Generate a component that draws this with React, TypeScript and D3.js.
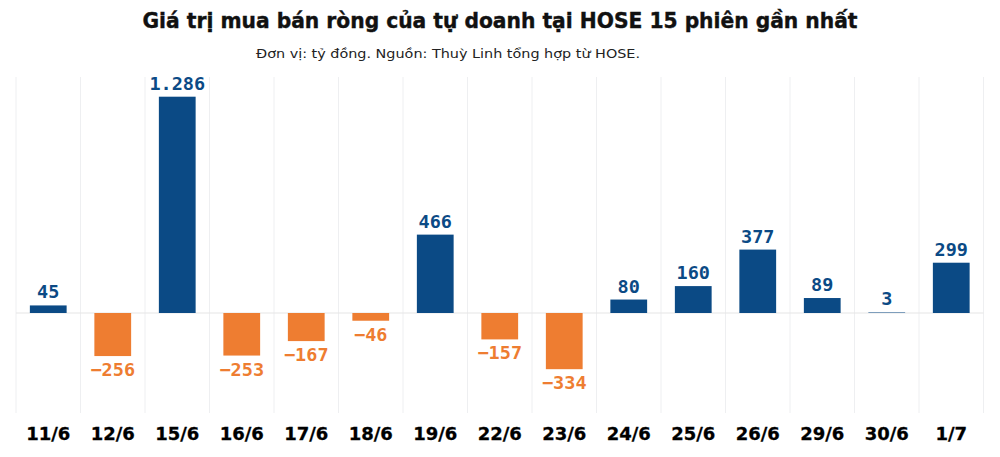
import React from 'react';
import * as d3 from 'd3';

const sessions = ['11/6', '12/6', '15/6', '16/6', '17/6', '18/6', '19/6', '22/6', '23/6', '24/6', '25/6', '26/6', '29/6', '30/6', '1/7'];
const netValues = [45, -256, 1286, -253, -167, -46, 466, -157, -334, 80, 160, 377, 89, 3, 299];

const W = 1000;
const H = 457;
const plot = { left: 16, right: 983.5, top: 77, bottom: 413 };

const BLUE = '#0b4a85';
const ORANGE = '#ee7d31';
const GRID = '#eeeff1';

const fmt = (v: number) => {
  const s = d3.format(',')(Math.abs(v)).replace(/,/g, '.');
  return v < 0 ? `\u2212${s}` : s;
};

export default function App() {
  const x = d3.scaleBand<string>().domain(sessions).range([plot.left, plot.right]).paddingInner(0.43).paddingOuter(0.215);
  const bands = d3.scaleBand<string>().domain(sessions).range([plot.left, plot.right]).padding(0);
  // zero line sits at y=313, the tallest bar tops out near y=97
  const y = d3.scaleLinear().domain([0, 1286]).range([313, 96.7]);

  const data = sessions.map((s, i) => ({ s, v: netValues[i] }));

  return (
    <div style={{ position: 'absolute', left: 0, top: 0 }}>
      <svg width={W} height={H} style={{ display: 'block', background: '#fff' }}>
        <text x={500} y={28} textAnchor="middle" fontFamily="'DejaVu Sans', sans-serif" fontWeight="bold" fontSize={21}
          textLength={715} lengthAdjust="spacingAndGlyphs" fill="#111" stroke="#111" strokeWidth={0.4}>
          Giá trị mua bán ròng của tự doanh tại HOSE 15 phiên gần nhất
        </text>
        <text x={448} y={57.5} textAnchor="middle" fontFamily="'DejaVu Sans', sans-serif" fontSize={11.5}
          textLength={384} lengthAdjust="spacingAndGlyphs" fill="#222">
          Đơn vị: tỷ đồng. Nguồn: Thuỳ Linh tổng hợp từ HOSE.
        </text>

        {/* band separators */}
        {sessions.map(s => (
          <line key={s} x1={bands(s)!} x2={bands(s)!} y1={plot.top} y2={plot.bottom} stroke={GRID} strokeWidth={1} />
        ))}
        <line x1={plot.right} x2={plot.right} y1={plot.top} y2={plot.bottom} stroke={GRID} strokeWidth={1} />
        <line x1={plot.left} x2={plot.right} y1={y(0)} y2={y(0)} stroke="#e6e6e6" strokeWidth={1.2} />

        {data.map(d => {
          const top = Math.min(y(d.v), y(0));
          const h = Math.abs(y(d.v) - y(0));
          return (
            <rect key={d.s} x={x(d.s)!} y={top} width={x.bandwidth()} height={h} fill={d.v < 0 ? ORANGE : BLUE} />
          );
        })}

        {data.map(d => (
          <text key={d.s} x={x(d.s)! + x.bandwidth() / 2} y={d.v < 0 ? y(d.v) + 20 : y(d.v) - 7}
            textAnchor="middle" fontFamily="'DejaVu Sans Mono', monospace" fontWeight="bold" fontSize={18.5}
            fill={d.v < 0 ? ORANGE : BLUE}>
            {fmt(d.v)}
          </text>
        ))}

        {sessions.map(s => (
          <text key={s} x={x(s)! + x.bandwidth() / 2} y={440} textAnchor="middle"
            fontFamily="'DejaVu Sans', sans-serif" fontWeight="bold" fontSize={18} fill="#000"
            stroke="#000" strokeWidth={0.3}>
            {s}
          </text>
        ))}
      </svg>
    </div>
  );
}
